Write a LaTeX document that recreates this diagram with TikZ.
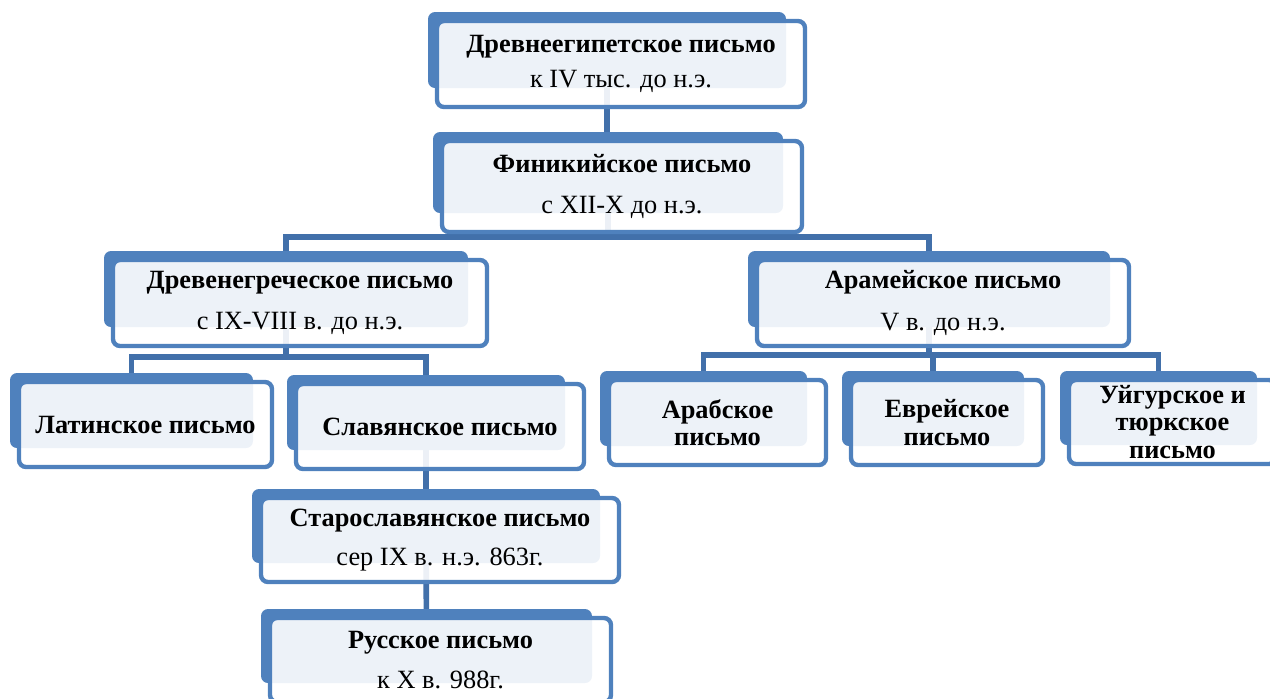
\documentclass[tikz,border=0pt]{standalone}
\usepackage{fontspec}
\setmainfont{Liberation Serif}
\usetikzlibrary{backgrounds}

\definecolor{boxblue}{RGB}{79,129,189}
\definecolor{lineblue}{RGB}{66,112,170}

\begin{document}
\begin{tikzpicture}[x=0.02cm, y=-0.02cm,
    back/.style={fill=boxblue, rounded corners=4pt, inner sep=0pt},
    front/.style={draw=boxblue, line width=2.5pt, fill=white, fill opacity=0.9, text opacity=1,
        rounded corners=4pt, inner sep=0pt, align=center, font=\fontsize{15}{15.5}\selectfont},
    heavy/.style={font=\fontsize{15}{15.5}\selectfont\bfseries},
    light/.style={},
    conn/.style={draw=lineblue, line width=3.2pt}]
    \useasboundingbox (0,0) rectangle (1270,698);
    % blocks: name / style / back corners / text
    \foreach \n/\s/\xa/\ya/\xb/\yb/\txt in {
        eg/light/428/12/786/88/{\textbf{Древнеегипетское письмо}\\[4pt]к IV тыс. до н.э.},
        ph/light/433/132/783/213/{\textbf{Финикийское письмо}\\[8pt]с XII-X до н.э.},
        gr/light/104/251/468/327/{\textbf{Древенегреческое письмо}\\[8pt]с IX-VIII в. до н.э.},
        ar/light/748/251/1110/327/{\textbf{Арамейское письмо}\\[8pt]V в. до н.э.},
        la/heavy/10/373/253/448/{Латинское письмо},
        sl/heavy/287/375/565/450/{Славянское письмо},
        st/light/252/489/600/563/{\textbf{Старославянское письмо}\\[7pt]сер IX в. н.э. 863г.},
        ru/light/261/609/592/683/{\textbf{Русское письмо}\\[7pt]к X в. 988г.},
        ab/heavy/600/371/807/446/{Арабское\\письмо},
        he/heavy/842/371/1024/446/{Еврейское\\письмо},
        uy/heavy/1060/371/1257/445/{Уйгурское и\\тюркское\\письмо}} {
        \node[back, minimum width={(\xb-\xa)*0.02cm}, minimum height={(\yb-\ya)*0.02cm}]
            (\n b) at ({(\xa+\xb)/2},{(\ya+\yb)/2}) {};
        \node[front, \s, minimum width={(\xb-\xa+10)*0.02cm}, minimum height={(\yb-\ya+10)*0.02cm}]
            (\n) at ({(\xa+\xb)/2+14},{(\ya+\yb)/2+14}) {\txt};
    }
    % connectors behind the boxes
    \begin{scope}[on background layer]
        \draw[conn] (egb.center) -- (egb.center |- phb.center);
        \draw[conn] (phb.center) -- (phb.center |- 0,237);
        \draw[conn] (grb.center) |- (phb.center |- 0,237) -| (arb.center);
        \draw[conn] (grb.center) -- (grb.center |- 0,357);
        \draw[conn] (lab.center) |- (grb.center |- 0,357) -| (slb.center);
        \draw[conn] (slb.center) -- (stb.center) -- (rub.center);
        \draw[conn] (arb.center) -- (arb.center |- 0,355);
        \draw[conn] (abb.center) |- (arb.center |- 0,355) -| (uyb.center);
        \draw[conn] (heb.center) -- (heb.center |- 0,355);
    \end{scope}
\end{tikzpicture}
\end{document}
